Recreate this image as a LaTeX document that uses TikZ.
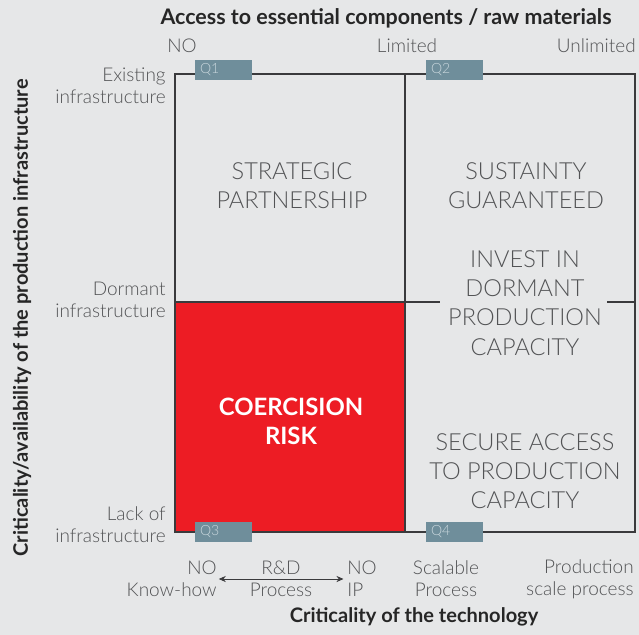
\documentclass[tikz,border=0pt]{standalone}
\usepackage{fontspec}
\setmainfont{Lato}
\newfontfamily\thinfont{Lato Light}
\usepackage{xcolor}
\usepackage{tikz}
\usetikzlibrary{arrows.meta,positioning}

\definecolor{bgGray}{HTML}{E6E7E8}
\definecolor{lineGray}{HTML}{3A3A3C}
\definecolor{txtGray}{HTML}{525355}
\definecolor{riskRed}{HTML}{ED1C24}
\definecolor{tagBlue}{HTML}{6F8E9B}
\definecolor{tagText}{HTML}{C9D7DD}

\begin{document}
\begin{tikzpicture}[
  x=0.02cm, y=-0.02cm,
  grid/.style={draw=lineGray, line width=0.85pt},
  quadtext/.style={font=\thinfont\fontsize{13.4}{16.6}\selectfont, text=txtGray, align=center, inner sep=0pt},
  risktext/.style={font=\fontsize{13.6}{16.6}\selectfont\bfseries, text=white, align=center, inner sep=0pt},
  axislabel/.style={font=\thinfont\fontsize{10.8}{12.6}\selectfont, text=txtGray, inner sep=0pt},
  axistitle/.style={font=\fontsize{11.4}{13}\selectfont\bfseries, text=black!85, inner sep=0pt},
  qtag/.style={fill=tagBlue, minimum width=1.14cm, minimum height=0.4cm, inner sep=0pt,
    text width=0.94cm, align=left, text=tagText, font=\thinfont\fontsize{8}{9}\selectfont},
  arr/.style={{Stealth[length=4pt,width=3.5pt]}-{Stealth[length=4pt,width=3.5pt]}, draw=lineGray, line width=0.5pt},
]

% background and page size
\fill[bgGray] (0,0) rectangle (639,635);
\useasboundingbox (0,0) rectangle (639,635);

% ===== quadrant grid =====
\fill[riskRed] (175,302) rectangle (405,532);
\draw[grid] (175,74) rectangle (635,532);
\draw[grid] (405,74) -- (405,532);
\draw[grid] (175,302) -- (405,302);
\draw[grid] (405,302) -- (440,302);
\draw[grid] (607,302) -- (635,302);

% ===== quadrant tags =====
\node[qtag] (q1) at (223.5,70) {Q1};
\node[qtag] (q2) at (454.5,70) {Q2};
\node[qtag] (q3) at (223.5,532) {Q3};
\node[qtag] (q4) at (454.5,532) {Q4};

% ===== quadrant contents =====
\node[quadtext] (partner) at (292,186) {STRATEGIC\\PARTNERSHIP};
\node[quadtext] (sustain) at (526,186) {SUSTAINTY\\GUARANTEED};
\node[quadtext] (invest) at (525,303) {INVEST IN\\DORMANT\\PRODUCTION\\CAPACITY};
\node[quadtext] (secure) at (525,471) {SECURE ACCESS\\TO PRODUCTION\\CAPACITY};
\node[risktext] (coercion) at (291,421) {COERCISION\\RISK};

% ===== top axis =====
\node[axistitle, font=\fontsize{12.2}{14}\selectfont\bfseries] (xtoptitle) at (386,18) {Access to essential components / raw materials};
\node[axislabel] (rawno) at (182,46) {NO};
\node[axislabel] (rawlim) at (407,46) {Limited};
\node[axislabel, anchor=east] (rawunl) at (636,46) {Unlimited};

% ===== left axis =====
\node[axistitle, rotate=90] (ytitle) at (22,318) {Criticality/availability of the production infrastructure};
\node[axislabel, anchor=east, align=right] (infexist) at (166,86) {Existing\\infrastructure};
\node[axislabel, anchor=east, align=right] (infdorm) at (166,300) {Dormant\\infrastructure};
\node[axislabel, anchor=east, align=right] (inflack) at (166,525) {Lack of\\infrastructure};

% ===== bottom axis =====
\node[axislabel, anchor=east, align=right] (knowhow) at (217,579) {NO\\Know-how};
\node[axislabel, align=center] (rnd) at (281,579) {R\&D\\Process};
\node[axislabel, anchor=west, align=left] (noip) at (347,579) {NO\\IP};
\node[axislabel, align=center] (scalable) at (446,579) {Scalable\\Process};
\node[axislabel, anchor=east, align=right] (prodscale) at (634,579) {Production\\scale process};
\node[axistitle] (xbottitle) at (414,617) {Criticality of the technology};

\draw[arr, shorten <=1pt, shorten >=2pt] (knowhow.east) -- (noip.west);

\end{tikzpicture}
\end{document}
